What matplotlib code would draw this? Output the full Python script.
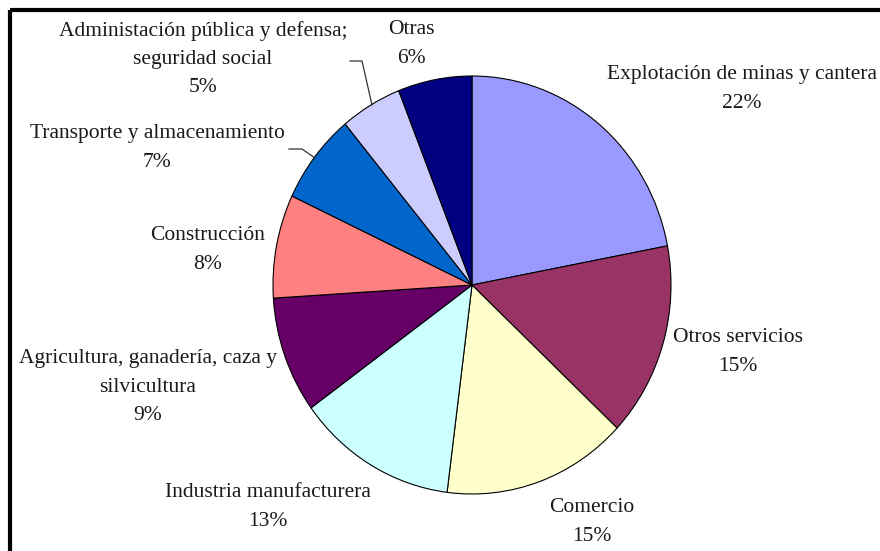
import matplotlib
matplotlib.use("Agg")
import matplotlib.pyplot as plt
from matplotlib.patches import Rectangle

categories = [
    "Explotación de minas y cantera",
    "Otros servicios",
    "Comercio",
    "Industria manufacturera",
    "Agricultura, ganadería, caza y\nsilvicultura",
    "Construcción",
    "Transporte y almacenamiento",
    "Administación pública y defensa;\nseguridad social",
    "Otras",
]
values = [22, 15, 15, 13, 9, 8, 7, 5, 6]
colors = ["#9999FF", "#993366", "#FFFFCC", "#CCFFFF", "#660066",
          "#FF8080", "#0066CC", "#CCCCFF", "#000080"]

# label centres in pixel coordinates (layout)
label_pos = [(742, 89), (738, 352), (592, 522), (268, 507), (148, 387),
             (208, 250), (157, 148), (203, 59), (411, 44)]

W, H = 880, 551
fig = plt.figure(figsize=(W / 100, H / 100), dpi=100)
fig.patch.set_facecolor("white")

# pie axes placed on the (slightly elliptical) bounding box of the pie
left, right, top, bottom = 273, 671, 76, 494
axp = fig.add_axes([left / W, (H - bottom) / H, (right - left) / W, (bottom - top) / H])
axp.pie(values, colors=colors, startangle=90, counterclock=False, radius=1,
        wedgeprops=dict(edgecolor="black", linewidth=0.8))
axp.set_aspect("auto")
axp.set_xlim(-1, 1)
axp.set_ylim(-1, 1)
axp.axis("off")

# overlay axes in pixel coordinates for labels, leader lines and frame
ax = fig.add_axes([0, 0, 1, 1], zorder=5)
ax.set_xlim(0, W)
ax.set_ylim(H, 0)
ax.axis("off")
ax.patch.set_alpha(0)

for name, v, (x, y) in zip(categories, values, label_pos):
    ax.text(x, y, f"{name}\n{v}%", ha="center", va="center",
            family="Liberation Serif", fontsize=15.5, color="#1a1a1a",
            linespacing=1.65)

# leader lines
ax.plot([289, 302, 315], [149, 149, 158], color="#333333", lw=0.9)
ax.plot([350, 362, 372], [61, 61, 105], color="#333333", lw=0.9)

# frame (cropped at right and bottom)
ax.add_patch(Rectangle((10, 10), 1000, 1000, fill=False, edgecolor="black",
                       linewidth=3, clip_on=False))

fig.savefig("out.png", dpi=100, facecolor="white")
